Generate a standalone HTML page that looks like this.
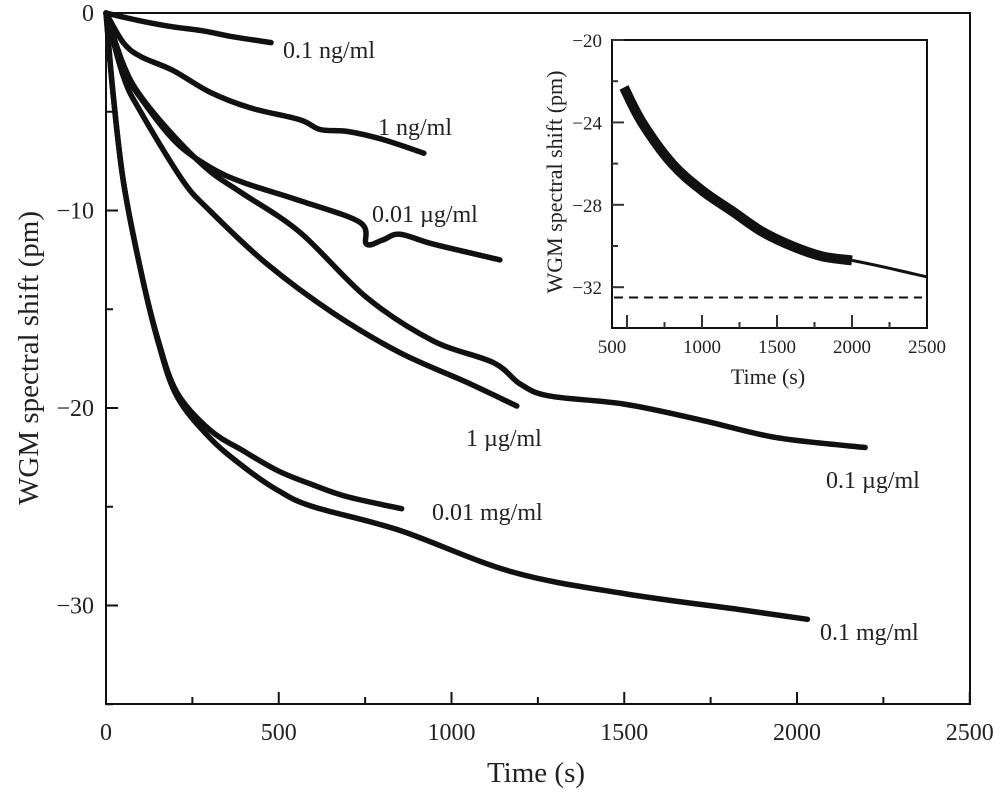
<!DOCTYPE html>
<html><head><meta charset="utf-8"><style>
body{margin:0;background:#fff}
svg{display:block;font-family:"Liberation Serif",serif}
</style></head><body>
<svg id="c" width="1000" height="795" viewBox="0 0 1000 795"></svg>
<script>
const seriesNames=["0.1 ng/ml","1 ng/ml","0.01 µg/ml","1 µg/ml","0.1 µg/ml","0.01 mg/ml","0.1 mg/ml"];
const sNgTenth=[[0,0],[100,-0.4],[193,-0.7],[280,-0.9],[366,-1.2],[440,-1.4],[478,-1.5]];
const sNg1=[[0,0],[50,-1.5],[100,-2.2],[193,-2.9],[300,-4],[417,-4.8],[561,-5.4],[620,-5.9],[700,-6],[800,-6.4],[920,-7.1]];
const sUgHundredth=[[0,0],[50,-2.8],[100,-4.3],[200,-6.5],[300,-7.8],[400,-8.6],[561,-9.5],[735,-10.6],[754,-11.7],[800,-11.5],[851,-11.2],[947,-11.7],[1140,-12.5]];
const sUg1=[[0,0],[50,-3.2],[100,-5],[223,-8.5],[300,-10],[465,-12.7],[658,-15.2],[851,-17.2],[1044,-18.7],[1189,-19.9]];
const sUgTenth=[[0,0],[50,-2.6],[100,-4.2],[200,-6.3],[300,-8],[392,-9.1],[561,-11.1],[754,-14.4],[947,-16.6],[1121,-17.7],[1200,-18.8],[1285,-19.4],[1500,-19.8],[1720,-20.6],[1940,-21.5],[2197,-22]];
const sMgHundredth=[[0,0],[20,-4],[50,-8.5],[100,-13],[150,-16.5],[205,-19.2],[300,-21.1],[400,-22.2],[500,-23.2],[600,-23.9],[700,-24.5],[856,-25.1]];
const sMgTenth=[[0,0],[20,-4],[50,-8.5],[100,-13],[150,-16.6],[205,-19.4],[300,-21.5],[400,-23],[500,-24.2],[600,-25],[850,-26.2],[1175,-28.3],[1500,-29.4],[1830,-30.2],[2030,-30.7]];
const xTicks=[0,500,1000,1500,2000,2500];
const yTicks=[0,-10,-20,-30];
const insetData=[[480,-22.3],[600,-24],[800,-26],[1000,-27.3],[1200,-28.3],[1400,-29.3],[1600,-30.0],[1800,-30.5],[2000,-30.7]];
const insetFit=[[2000,-30.7],[2200,-31],[2500,-31.5]];
const insetAsymptote=-32.5;
const insetXTicks=[500,1000,1500,2000,2500];
const insetYTicks=[-20,-24,-28,-32];

const NS="http://www.w3.org/2000/svg";
const svg=document.getElementById('c');
function mk(t,a,p){const e=document.createElementNS(NS,t);for(const k in a)e.setAttribute(k,a[k]);(p||svg).appendChild(e);return e;}
const X=t=>106+t*0.3455, Y=v=>13+(-v)*19.75;
const IX=t=>612+(t-400)*0.15, IY=v=>40+(-20-v)*20.6;
function smooth(pts){
  let d='M'+pts[0][0].toFixed(1)+','+pts[0][1].toFixed(1);
  for(let i=0;i<pts.length-1;i++){
    const p0=pts[Math.max(0,i-1)],p1=pts[i],p2=pts[i+1],p3=pts[Math.min(pts.length-1,i+2)];
    const c1=[p1[0]+(p2[0]-p0[0])/6,p1[1]+(p2[1]-p0[1])/6],c2=[p2[0]-(p3[0]-p1[0])/6,p2[1]-(p3[1]-p1[1])/6];
    d+='C'+c1[0].toFixed(1)+','+c1[1].toFixed(1)+' '+c2[0].toFixed(1)+','+c2[1].toFixed(1)+' '+p2[0].toFixed(1)+','+p2[1].toFixed(1);
  }
  return d;
}

let f=mk('rect',{x:106,y:13,width:864,height:691,fill:'none',stroke:'#111','stroke-width':2});

for(let t=0;t<=2500;t+=250){const L=t%500?7:12;mk('line',{x1:X(t),x2:X(t),y1:704,y2:704-L,stroke:'#111','stroke-width':2});}
for(let v=0;v>=-35;v-=5){const L=v%10?7:12;mk('line',{x1:106,x2:106+L,y1:Y(v),y2:Y(v),stroke:'#111','stroke-width':2});}
xTicks.forEach(t=>{const e=mk('text',{x:X(t),y:740,'text-anchor':'middle','font-size':24,fill:'#222'});e.textContent=t;
});
yTicks.forEach(v=>{const e=mk('text',{x:94,y:Y(v)+8,'text-anchor':'end','font-size':24,fill:'#222'});e.textContent=v===0?'0':'\u2212'+(-v);
});
let xt=mk('text',{x:536,y:782,'text-anchor':'middle','font-size':29,fill:'#222'});xt.textContent='Time (s)';

let yt=mk('text',{x:0,y:0,'text-anchor':'middle','font-size':29,fill:'#222',transform:'translate(38,358) rotate(-90)'});yt.textContent='WGM spectral shift (pm)';


const allSeries=[sNgTenth,sNg1,sUgHundredth,sUg1,sUgTenth,sMgHundredth,sMgTenth];
const labelPos=[[283,58],[378,135],[372,222],[466,446],[826,488],[432,520],[820,640]];
allSeries.forEach((s,i)=>{
  const e=mk('path',{d:smooth(s.map(p=>[X(p[0]),Y(p[1])])),fill:'none',stroke:'#111','stroke-width':5.5,'stroke-linejoin':'round','stroke-linecap':'round'});
  
  const l=mk('text',{x:labelPos[i][0],y:labelPos[i][1],'font-size':24,fill:'#222'});l.textContent=seriesNames[i];
  
});

const g=mk('g',{});

mk('rect',{x:612,y:40,width:315,height:288,fill:'#fff',stroke:'#111','stroke-width':2},g);
for(let t=500;t<2500;t+=250){const L=t%500?6:13;mk('line',{x1:IX(t),x2:IX(t),y1:328,y2:328-L,stroke:'#333','stroke-width':2},g);}
for(let v=-20;v>=-32;v-=2){const L=v%4?6:12;mk('line',{x1:612,x2:612+L,y1:IY(v),y2:IY(v),stroke:'#333','stroke-width':2},g);}
insetXTicks.forEach((t,i)=>{const e=mk('text',{x:i===0?612:IX(t),y:353,'text-anchor':'middle','font-size':19,fill:'#222'},g);e.textContent=t;
});
insetYTicks.forEach(v=>{const e=mk('text',{x:602,y:IY(v)+7,'text-anchor':'end','font-size':19,fill:'#222'},g);e.textContent='\u2212'+(-v);
});
let ixt=mk('text',{x:768,y:384,'text-anchor':'middle','font-size':22,fill:'#222'},g);ixt.textContent='Time (s)';

let iyt=mk('text',{x:0,y:0,'text-anchor':'middle','font-size':22,fill:'#222',transform:'translate(562,182) rotate(-90)'},g);iyt.textContent='WGM spectral shift (pm)';

let ip=mk('path',{d:smooth(insetData.map(p=>[IX(p[0]),IY(p[1])])),fill:'none',stroke:'#111','stroke-width':10,'stroke-linejoin':'round'},g);

let ifl=mk('path',{d:smooth(insetFit.map(p=>[IX(p[0]),IY(p[1])])),fill:'none',stroke:'#111','stroke-width':3},g);

let ia=mk('line',{x1:614,x2:922,y1:IY(insetAsymptote),y2:IY(insetAsymptote),stroke:'#111','stroke-width':2,'stroke-dasharray':'9,6'},g);

</script>
</body></html>
